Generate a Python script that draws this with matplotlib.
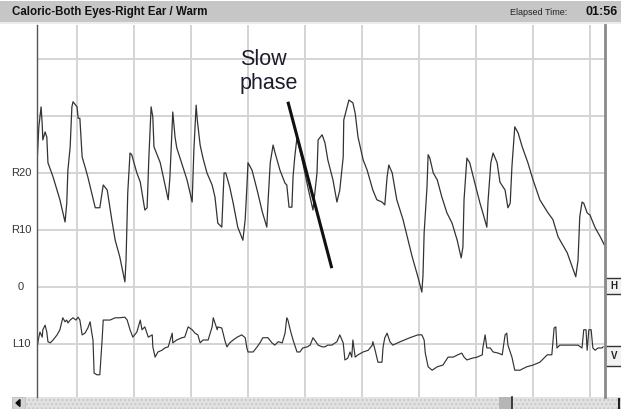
import matplotlib
matplotlib.use('Agg')
import matplotlib.pyplot as plt
from matplotlib.patches import Rectangle, Polygon

# Horizontal channel (H): time in s, position in degrees (R positive)
h_t = [0.30, 0.33, 0.37, 0.39, 0.40, 0.44, 0.47, 0.49, 0.58, 0.70, 0.79, 0.82, 0.84, 0.88,
       0.91, 0.93, 1.00, 1.02, 1.05, 1.09, 1.14, 1.19, 1.32, 1.40, 1.46, 1.53, 1.61, 1.67,
       1.75, 1.84, 1.86, 1.89, 1.93, 1.96, 2.05, 2.11, 2.19, 2.23, 2.26, 2.30, 2.33, 2.35,
       2.46, 2.60, 2.63, 2.67, 2.68, 2.72, 2.75, 2.93, 3.02, 3.05, 3.09, 3.11, 3.16, 3.21,
       3.28, 3.37, 3.42, 3.47, 3.54, 3.58, 3.61, 3.68, 3.74, 3.82, 3.91, 3.95, 3.98, 4.00,
       4.07, 4.16, 4.25, 4.33, 4.35, 4.39, 4.44, 4.47, 4.56, 4.65, 4.68, 4.72, 4.77, 4.79,
       4.82, 4.86, 4.88, 4.96, 5.05, 5.14, 5.21, 5.23, 5.30, 5.35, 5.40, 5.49, 5.56, 5.61,
       5.67, 5.68, 5.74, 5.77, 5.84, 5.88, 5.93, 6.02, 6.09, 6.19, 6.26, 6.35, 6.40, 6.44,
       6.47, 6.53, 6.61, 6.72, 6.88, 6.98, 7.05, 7.07, 7.09, 7.14, 7.16, 7.19, 7.25, 7.32,
       7.40, 7.49, 7.58, 7.67, 7.74, 7.77, 7.79, 7.81, 7.84, 7.89, 7.98, 8.07, 8.12, 8.19,
       8.21, 8.26, 8.30, 8.37, 8.42, 8.51, 8.56, 8.60, 8.63, 8.68, 8.74, 8.81, 8.91, 9.00,
       9.12, 9.25, 9.35, 9.44, 9.60, 9.75, 9.79, 9.82, 9.86, 9.89, 9.95, 10.00, 10.09, 10.18,
       10.25]
h_deg = [21.9, 28.1, 31.6, 28.4, 25.8, 27.2, 26.3, 21.8, 19.3, 15.3, 11.4, 14.7, 20.5, 24.6,
         31.6, 32.5, 31.6, 29.6, 29.6, 22.8, 21.1, 19.3, 13.9, 13.9, 17.9, 17.0, 11.8, 8.2,
         5.3, 0.9, 4.7, 16.5, 23.5, 23.2, 20.0, 18.4, 13.5, 13.9, 22.6, 31.6, 29.8, 24.6,
         21.8, 15.3, 19.3, 28.4, 30.7, 26.3, 24.4, 18.8, 14.9, 24.0, 31.9, 29.3, 24.9, 22.6,
         20.0, 17.9, 15.8, 11.2, 10.5, 20.0, 20.0, 17.5, 14.7, 10.5, 8.2, 11.8, 17.5, 21.8,
         20.5, 17.0, 13.2, 10.5, 14.7, 21.8, 24.9, 23.7, 20.5, 18.2, 17.9, 14.0, 14.0, 19.3,
         22.8, 26.3, 25.3, 21.8, 17.5, 13.5, 20.0, 25.8, 26.7, 25.3, 22.3, 18.8, 14.9, 17.0,
         22.8, 29.3, 31.6, 32.8, 32.3, 30.5, 26.3, 22.3, 20.5, 17.0, 15.3, 14.9, 14.4, 19.3,
         21.4, 20.0, 15.3, 11.8, 5.3, 1.8, -0.9, 2.1, 9.5, 17.5, 23.2, 22.6, 20.0, 18.8,
         15.8, 13.0, 11.2, 8.2, 5.1, 7.0, 15.3, 18.2, 22.6, 21.8, 18.2, 14.7, 13.0, 10.5,
         14.9, 21.8, 23.5, 21.8, 18.4, 17.0, 13.9, 14.7, 21.1, 28.1, 27.0, 24.6, 21.8, 18.8,
         15.3, 13.2, 11.8, 8.8, 6.0, 1.8, 4.7, 12.3, 14.9, 14.7, 13.0, 12.6, 10.4, 8.8,
         7.4]

# Vertical channel (V)
v_t = [0.30, 0.32, 0.35, 0.39, 0.40, 0.44, 0.47, 0.49, 0.53, 0.58, 0.65, 0.70, 0.74, 0.75,
       0.79, 0.82, 0.84, 0.88, 0.93, 0.98, 1.02, 1.05, 1.09, 1.14, 1.19, 1.23, 1.26, 1.28,
       1.30, 1.35, 1.40, 1.44, 1.46, 1.53, 1.58, 1.67, 1.75, 1.84, 1.88, 1.93, 1.98, 2.05,
       2.11, 2.14, 2.19, 2.25, 2.32, 2.33, 2.37, 2.42, 2.49, 2.54, 2.60, 2.67, 2.68, 2.75,
       2.84, 2.89, 2.95, 3.02, 3.07, 3.12, 3.16, 3.21, 3.30, 3.37, 3.39, 3.42, 3.46, 3.47,
       3.54, 3.60, 3.63, 3.68, 3.74, 3.81, 3.89, 3.95, 3.98, 4.00, 4.09, 4.16, 4.21, 4.26,
       4.35, 4.42, 4.47, 4.53, 4.60, 4.65, 4.68, 4.70, 4.74, 4.79, 4.86, 4.91, 4.96, 5.04,
       5.09, 5.14, 5.19, 5.23, 5.30, 5.35, 5.40, 5.47, 5.56, 5.61, 5.67, 5.70, 5.75, 5.79,
       5.82, 5.84, 5.88, 5.93, 6.02, 6.11, 6.18, 6.19, 6.23, 6.28, 6.35, 6.37, 6.40, 6.44,
       6.49, 6.54, 6.67, 6.84, 6.98, 7.05, 7.09, 7.11, 7.16, 7.23, 7.32, 7.42, 7.51, 7.60,
       7.68, 7.75, 7.79, 7.84, 7.93, 8.02, 8.11, 8.12, 8.16, 8.19, 8.25, 8.30, 8.39, 8.46,
       8.51, 8.54, 8.56, 8.63, 8.68, 8.77, 8.89, 9.00, 9.12, 9.25, 9.33, 9.37, 9.40, 9.42,
       9.47, 9.60, 9.70, 9.79, 9.86, 9.89, 9.93, 9.95, 9.98, 10.02, 10.05, 10.09, 10.14,
       10.21, 10.23]
v_deg = [-10.7, -9.3, -7.9, -8.8, -7.5, -6.7, -7.9, -9.6, -9.8, -9.3, -8.4, -7.5, -5.8, -5.4,
         -6.1, -5.8, -6.3, -5.8, -5.4, -5.8, -5.3, -5.8, -8.4, -8.1, -7.2, -6.1, -8.1, -9.3,
         -15.1, -15.4, -15.4, -9.3, -5.8, -5.8, -5.8, -5.4, -5.4, -5.3, -5.8, -7.5, -8.8, -7.9,
         -5.8, -7.5, -7.0, -8.8, -8.4, -10.5, -12.3, -11.4, -11.1, -10.7, -10.5, -8.1, -9.8, -9.3,
         -8.9, -8.8, -7.0, -7.5, -8.1, -8.4, -9.8, -9.3, -9.3, -7.0, -5.4, -6.3, -7.5, -7.0,
         -7.2, -9.6, -10.5, -9.8, -9.3, -8.8, -8.4, -8.9, -10.7, -11.4, -11.4, -10.5, -9.8, -8.9,
         -8.9, -9.8, -10.2, -9.6, -9.8, -8.1, -5.4, -5.8, -7.5, -9.3, -11.4, -11.4, -10.7, -10.5,
         -10.2, -8.9, -9.6, -10.2, -10.5, -10.5, -10.2, -10.2, -9.6, -8.4, -9.8, -12.8, -12.5, -11.4,
         -12.3, -9.3, -12.3, -11.9, -11.4, -11.1, -10.2, -9.6, -11.1, -13.2, -13.2, -10.5, -8.9, -8.1,
         -9.6, -10.2, -9.6, -8.9, -8.4, -8.4, -9.3, -11.6, -14.0, -14.6, -14.0, -13.7, -12.3, -12.3,
         -11.9, -11.6, -12.3, -12.8, -12.5, -12.3, -11.9, -10.7, -8.4, -10.7, -10.7, -11.4, -11.6, -11.9,
         -8.4, -8.1, -10.2, -12.3, -14.6, -14.6, -14.0, -13.7, -13.2, -11.9, -11.9, -7.2, -7.0, -10.7,
         -10.2, -10.2, -10.2, -10.2, -10.7, -7.5, -7.5, -11.1, -7.5, -7.5, -10.7, -11.1, -10.7,
         -10.7, -10.5]

y_ticks = [20, 10, 0, -10]
y_labels = ['R20', 'R10', '0', 'L10']
grid_x = [1, 2, 3, 4, 5, 6, 7, 8, 9, 10]
grid_y = [40, 30, 20, 10, 0, -10]

W, H = 621, 409
fig = plt.figure(figsize=(W / 100, H / 100), dpi=100)

# background layer in pixel coordinates (header, scrollbar, channel tags)
bg = fig.add_axes([0, 0, 1, 1])
bg.set_xlim(0, W)
bg.set_ylim(H, 0)
bg.axis('off')
bg.add_patch(Rectangle((0, 1), W, 21, facecolor='#c6c6c6', edgecolor='none'))
bg.add_patch(Rectangle((0, 22), W, 2, facecolor='#ececec', edgecolor='none'))
bg.text(12, 15, 'Caloric-Both Eyes-Right Ear / Warm', fontsize=8.3, fontweight='bold',
        family='Liberation Sans', color='#111111', va='baseline')
bg.text(510, 15, 'Elapsed Time:', fontsize=6.5, family='Liberation Sans',
        color='#222222', va='baseline')
bg.text(586, 15, '01:56', fontsize=9, fontweight='bold', family='Liberation Sans',
        color='#111111', va='baseline')

# scrollbar
bg.add_patch(Rectangle((12, 397), W - 12, 12, facecolor='#e2e2e2', edgecolor='#c8c8c8',
                       hatch='....', lw=0))
bg.add_patch(Rectangle((12, 397), 13, 12, facecolor='#d4d4d4', edgecolor='#bbbbbb', lw=0.5))
bg.add_patch(Polygon([[16, 403], [20, 399.5], [20, 406.5]], closed=True, color='#111111'))
bg.add_patch(Rectangle((499, 397), 13, 12, facecolor='#b6b6b6', edgecolor='none'))
bg.plot([512, 512], [397, 409], color='#222222', lw=1.2)
bg.plot([619, 619], [399, 409], color='#222222', lw=1.5)

# channel tags on the right
for y0, h, lab in [(278, 16, 'H'), (346, 20, 'V')]:
    bg.add_patch(Rectangle((605, y0), 17, h, facecolor='#f2f2f2', edgecolor='#333333', lw=1))
    bg.text(614, y0 + h / 2, lab, fontsize=7, fontweight='bold', ha='center', va='center',
            family='Liberation Sans', color='#222222')

for yt, lab in zip(y_ticks, y_labels):
    bg.text(21, 287 - yt * 5.7, lab, fontsize=8, ha='center', va='center',
            family='Liberation Sans', color='#333333')

# main trace axes
ax = fig.add_axes([37 / W, 12 / H, 568 / W, 372 / H])
ax.set_xlim(0.298, 10.263)
ax.set_ylim(-19.3, 45.96)
ax.patch.set_alpha(0)
for x in grid_x:
    ax.axvline(x, color='#d4d4d4', lw=1.4, zorder=0)
for y in grid_y:
    ax.axhline(y, color='#d4d4d4', lw=1.4, zorder=0)
ax.set_xticks([])
ax.set_yticks([])
ax.spines['top'].set_visible(False)
ax.spines['bottom'].set_visible(False)
ax.spines['left'].set_color('#555555')
ax.spines['left'].set_linewidth(1.0)
ax.spines['right'].set_color('#8a8a8a')
ax.spines['right'].set_linewidth(2.0)

ax.plot(h_t, h_deg, color='#333333', lw=0.9)
ax.plot(v_t, v_deg, color='#333333', lw=0.85)

# annotation
ax.plot([4.70, 5.47], [32.5, 3.3], color='#111111', lw=2.2, solid_capstyle='butt')
ax.text(3.86, 41.7, 'Slow\nphase', fontsize=15.5, family='Liberation Sans',
        color='#1c1c2c', va='top', ha='left', linespacing=1.15)

fig.savefig('out.png', dpi=100)
